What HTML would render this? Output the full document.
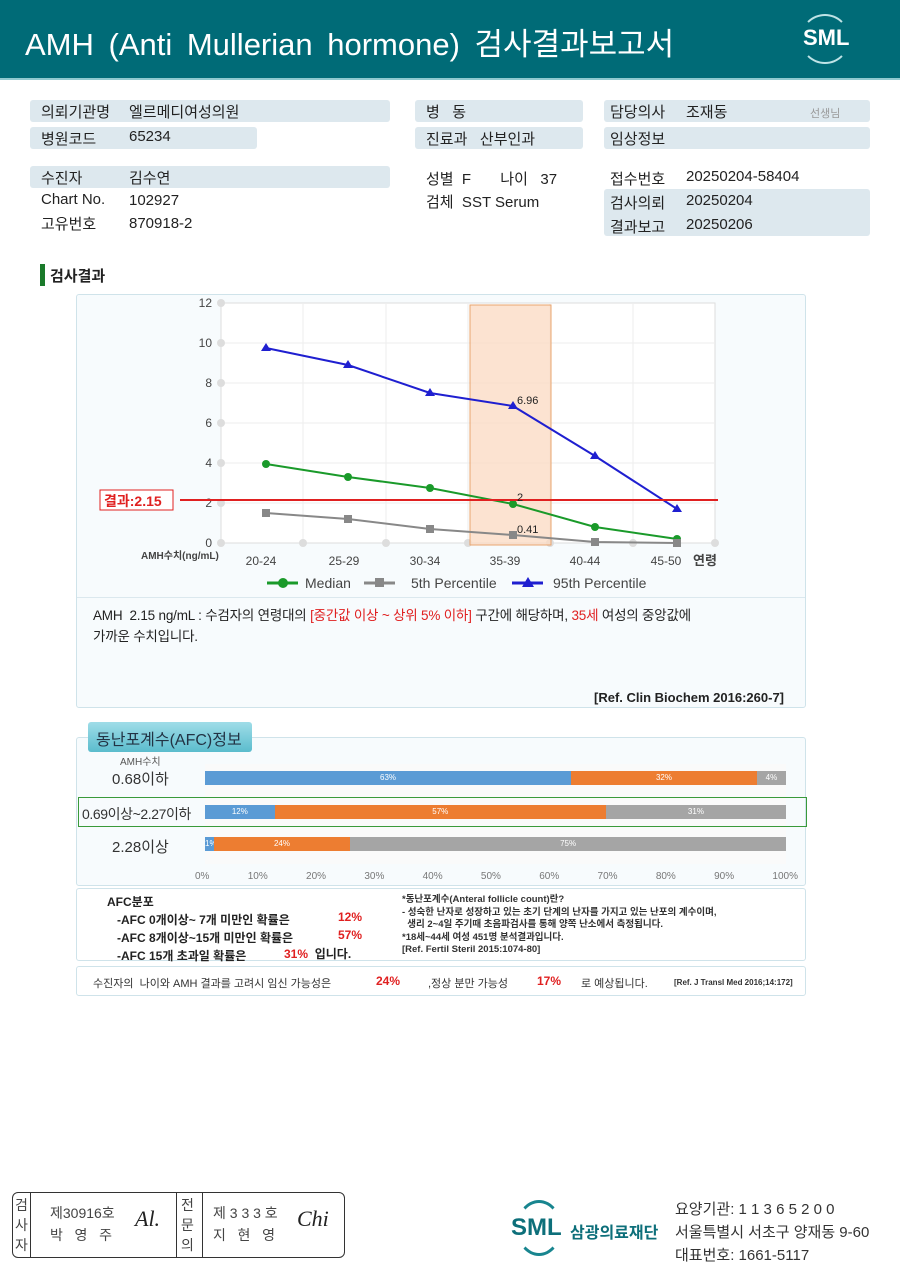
<!DOCTYPE html>
<html><head><meta charset="utf-8"><style>
*{margin:0;padding:0;box-sizing:border-box}
body{width:900px;height:1271px;background:#fff;position:relative;overflow:hidden;font-family:"Liberation Sans","Noto Sans CJK KR",sans-serif;color:#222}
.a{position:absolute;white-space:nowrap}
.bx{position:absolute;background:#dde8ee;border-radius:3px}
.t{font-size:15px}
.r{color:#e02020}
</style></head><body>
<div class="a" style="left:0;top:0;width:900px;height:78px;background:#006b77"></div>
<div class="a" style="left:0;top:78px;width:900px;height:2px;background:#8fc9cf"></div>
<div class="a" style="left:25px;top:19px;font-size:31px;color:#fff;word-spacing:6px">AMH (Anti Mullerian hormone) 검사결과보고서</div>
<div class="a" style="left:800px;top:14px;width:50px;height:50px;border-radius:50%;border:2px solid #bfe3e6;border-left-color:transparent;border-right-color:transparent"></div>
<div class="a" style="left:803px;top:25px;font-size:22px;font-weight:bold;color:#fff">SML</div>

<div class="bx" style="left:30px;top:100px;width:360px;height:22px"></div>
<div class="bx" style="left:30px;top:127px;width:227px;height:22px"></div>
<div class="bx" style="left:30px;top:166px;width:360px;height:22px"></div>
<div class="bx" style="left:415px;top:100px;width:168px;height:22px"></div>
<div class="bx" style="left:415px;top:127px;width:168px;height:22px"></div>
<div class="bx" style="left:604px;top:100px;width:266px;height:22px"></div>
<div class="bx" style="left:604px;top:127px;width:266px;height:22px"></div>
<div class="bx" style="left:604px;top:189px;width:266px;height:47px"></div>
<div class="a t" style="left:41px;top:101px">의뢰기관명</div><div class="a t" style="left:129px;top:101px">엘르메디여성의원</div>
<div class="a t" style="left:41px;top:128px">병원코드</div><div class="a t" style="left:129px;top:128px">65234</div>
<div class="a t" style="left:41px;top:167px">수진자</div><div class="a t" style="left:129px;top:167px">김수연</div>
<div class="a t" style="left:41px;top:191px">Chart No.</div><div class="a t" style="left:129px;top:192px">102927</div>
<div class="a t" style="left:41px;top:213px">고유번호</div><div class="a t" style="left:129px;top:215px">870918-2</div>
<div class="a t" style="left:426px;top:101px">병&nbsp;&nbsp;&nbsp;동</div>
<div class="a t" style="left:426px;top:128px">진료과&nbsp;&nbsp;&nbsp;산부인과</div>
<div class="a t" style="left:426px;top:168px">성별&nbsp;&nbsp;F&nbsp;&nbsp;&nbsp;&nbsp;&nbsp;&nbsp;&nbsp;나이&nbsp;&nbsp;&nbsp;37</div>
<div class="a t" style="left:426px;top:191px">검체&nbsp;&nbsp;SST Serum</div>
<div class="a t" style="left:610px;top:101px">담당의사</div><div class="a t" style="left:686px;top:101px">조재동</div><div class="a" style="left:810px;top:105px;font-size:11px;color:#999">선생님</div>
<div class="a t" style="left:610px;top:128px">임상정보</div>
<div class="a t" style="left:610px;top:168px">접수번호</div><div class="a t" style="left:686px;top:168px">20250204-58404</div>
<div class="a t" style="left:610px;top:192px">검사의뢰</div><div class="a t" style="left:686px;top:192px">20250204</div>
<div class="a t" style="left:610px;top:216px">결과보고</div><div class="a t" style="left:686px;top:216px">20250206</div>

<div class="a" style="left:40px;top:264px;width:5px;height:22px;background:#1a7a2a"></div>
<div class="a" style="left:50px;top:265px;font-size:15px;font-weight:bold">검사결과</div>

<div class="a" style="left:76px;top:294px;width:730px;height:414px;border:1px solid #cfe3ea;background:#f7fbfd;border-radius:3px"></div>
<div class="a" style="left:77px;top:597px;width:728px;height:1px;background:#dbe8ee"></div>
<svg class="a" style="left:0;top:0" width="900" height="720">
<rect x="221" y="303" width="494" height="240" fill="#fff" stroke="#ddd"/>
<g stroke="#eee">
<line x1="221" y1="343" x2="715" y2="343"/><line x1="221" y1="383" x2="715" y2="383"/><line x1="221" y1="423" x2="715" y2="423"/><line x1="221" y1="463" x2="715" y2="463"/><line x1="221" y1="503" x2="715" y2="503"/>
<line x1="303" y1="303" x2="303" y2="543"/><line x1="386" y1="303" x2="386" y2="543"/><line x1="468" y1="303" x2="468" y2="543"/><line x1="550" y1="303" x2="550" y2="543"/><line x1="633" y1="303" x2="633" y2="543"/></g>
<g fill="#ddd"><circle cx="221" cy="303" r="4"/><circle cx="221" cy="343" r="4"/><circle cx="221" cy="383" r="4"/><circle cx="221" cy="423" r="4"/><circle cx="221" cy="463" r="4"/><circle cx="221" cy="503" r="4"/><circle cx="221" cy="543" r="4"/><circle cx="303" cy="543" r="4"/><circle cx="386" cy="543" r="4"/><circle cx="468" cy="543" r="4"/><circle cx="550" cy="543" r="4"/><circle cx="633" cy="543" r="4"/><circle cx="715" cy="543" r="4"/></g>
<g font-size="12" fill="#444" text-anchor="end"><text x="212" y="307">12</text><text x="212" y="347">10</text><text x="212" y="387">8</text><text x="212" y="427">6</text><text x="212" y="467">4</text><text x="212" y="507">2</text><text x="212" y="547">0</text></g>
<rect x="470" y="305" width="81" height="240" fill="#fbd9c2" fill-opacity="0.75" stroke="#e8a46e"/>
<polyline points="266,348 348,365 430,393 513,406 595,456 677,509" fill="none" stroke="#1f1fd0" stroke-width="2"/>
<g fill="#1f1fd0"><path d="M266,343l5,8h-10z"/><path d="M348,360l5,8h-10z"/><path d="M430,388l5,8h-10z"/><path d="M513,401l5,8h-10z"/><path d="M595,451l5,8h-10z"/><path d="M677,504l5,8h-10z"/></g>
<polyline points="266,464 348,477 430,488 513,504 595,527 677,539" fill="none" stroke="#1a9a2a" stroke-width="2"/>
<g fill="#1a9a2a"><circle cx="266" cy="464" r="4"/><circle cx="348" cy="477" r="4"/><circle cx="430" cy="488" r="4"/><circle cx="513" cy="504" r="4"/><circle cx="595" cy="527" r="4"/><circle cx="677" cy="539" r="4"/></g>
<polyline points="266,513 348,519 430,529 513,535 595,542 677,543" fill="none" stroke="#888" stroke-width="2"/>
<g fill="#888"><rect x="262" y="509" width="8" height="8"/><rect x="344" y="515" width="8" height="8"/><rect x="426" y="525" width="8" height="8"/><rect x="509" y="531" width="8" height="8"/><rect x="591" y="538" width="8" height="8"/><rect x="673" y="539" width="8" height="8"/></g>
<line x1="180" y1="500" x2="718" y2="500" stroke="#e02020" stroke-width="2"/>
<rect x="100" y="490" width="73" height="20" fill="#fff" stroke="#e02020"/>
<text x="104" y="506" font-size="14" fill="#e02020" font-weight="bold">결과:2.15</text>
<g font-size="11" fill="#222"><text x="517" y="404">6.96</text><text x="517" y="501">2</text><text x="517" y="533">0.41</text></g>
<text x="141" y="559" font-size="10" fill="#444" font-weight="bold">AMH수치(ng/mL)</text>
<g font-size="12" fill="#444" text-anchor="middle"><text x="261" y="565">20-24</text><text x="344" y="565">25-29</text><text x="425" y="565">30-34</text><text x="505" y="565">35-39</text><text x="585" y="565">40-44</text><text x="666" y="565">45-50</text></g>
<text x="693" y="565" font-size="13" font-weight="bold" fill="#444">연령</text>
<line x1="267" y1="583" x2="298" y2="583" stroke="#1a9a2a" stroke-width="3"/><circle cx="283" cy="583" r="5" fill="#1a9a2a"/>
<text x="305" y="588" font-size="14" fill="#444">Median</text>
<line x1="364" y1="583" x2="395" y2="583" stroke="#888" stroke-width="3"/><rect x="375" y="578" width="9" height="9" fill="#888"/>
<text x="411" y="588" font-size="14" fill="#444">5th Percentile</text>
<line x1="512" y1="583" x2="543" y2="583" stroke="#1f1fd0" stroke-width="3"/><path d="M528,577l6,10h-12z" fill="#1f1fd0"/>
<text x="553" y="588" font-size="14" fill="#444">95th Percentile</text>
</svg>
<div class="a" style="left:93px;top:605px;font-size:13.5px;line-height:21px;white-space:normal;width:715px;letter-spacing:-0.2px">AMH&nbsp; 2.15 ng/mL : 수검자의 연령대의 <span class="r">[중간값 이상 ~ 상위 5% 이하]</span> 구간에 해당하며, <span class="r">35세</span> 여성의 중앙값에<br>가까운 수치입니다.</div>
<div class="a" style="left:594px;top:690px;font-size:13px;font-weight:bold">[Ref. Clin Biochem 2016:260-7]</div>

<div class="a" style="left:76px;top:737px;width:730px;height:149px;border:1px solid #cfe3ea;background:#f7fbfd;border-radius:3px"></div>
<div class="a" style="left:88px;top:722px;width:164px;height:30px;background:linear-gradient(#9fdde8,#5bbccd);border-radius:3px;font-size:16px;padding:4px 0 0 8px;color:#234">동난포계수(AFC)정보</div>
<div class="a" style="left:120px;top:753px;font-size:10px;color:#555">AMH수치</div>
<div class="a" style="left:205px;top:764px;width:581px;height:100px;background:#fafafa"></div>
<div class="a" style="left:78px;top:797px;width:729px;height:30px;border:1.5px solid #3a9a3a"></div>
<div class="a" style="left:112px;top:768px;font-size:15px;color:#333">0.68이하</div>
<div class="a" style="left:82px;top:804px;font-size:14px;color:#333;letter-spacing:-0.4px">0.69이상~2.27이하</div>
<div class="a" style="left:112px;top:836px;font-size:15px;color:#333">2.28이상</div>
<div class="a" style="left:205px;top:771px;height:14px;width:581px;display:flex;font-size:8px;color:#fff;line-height:14px;text-align:center">
<div style="width:63%;background:#5b9bd5">63%</div><div style="width:32%;background:#ed7d31">32%</div><div style="width:5%;background:#a5a5a5">4%</div></div>
<div class="a" style="left:205px;top:805px;height:14px;width:581px;display:flex;font-size:8px;color:#fff;line-height:14px;text-align:center">
<div style="width:12%;background:#5b9bd5">12%</div><div style="width:57%;background:#ed7d31">57%</div><div style="width:31%;background:#a5a5a5">31%</div></div>
<div class="a" style="left:205px;top:837px;height:14px;width:581px;display:flex;font-size:8px;color:#fff;line-height:14px;text-align:center">
<div style="width:1.5%;background:#5b9bd5">1%</div><div style="width:23.5%;background:#ed7d31">24%</div><div style="width:75%;background:#a5a5a5">75%</div></div>
<div class="a" style="left:195px;top:871px;width:603px;display:flex;justify-content:space-between;font-size:10px;color:#777"><span>0%</span><span>10%</span><span>20%</span><span>30%</span><span>40%</span><span>50%</span><span>60%</span><span>70%</span><span>80%</span><span>90%</span><span>100%</span></div>

<div class="a" style="left:76px;top:888px;width:730px;height:73px;border:1px solid #cfe3ea;background:#fff;border-radius:3px"></div>
<div class="a" style="left:107px;top:893px;font-size:12px;font-weight:bold;line-height:18px">AFC분포<br>&nbsp;&nbsp;&nbsp;-AFC 0개이상~ 7개 미만인 확률은<br>&nbsp;&nbsp;&nbsp;-AFC 8개이상~15개 미만인 확률은<br>&nbsp;&nbsp;&nbsp;-AFC 15개 초과일 확률은</div>
<div class="a r" style="left:338px;top:910px;font-size:12px;font-weight:bold">12%</div>
<div class="a r" style="left:338px;top:928px;font-size:12px;font-weight:bold">57%</div>
<div class="a" style="left:284px;top:945px;font-size:12px;font-weight:bold"><span class="r">31%</span>&nbsp; 입니다.</div>
<div class="a" style="left:402px;top:894px;font-size:9.5px;font-weight:bold;line-height:12.5px;color:#333">*동난포계수(Anteral follicle count)란?<br>- 성숙한 난자로 성장하고 있는 초기 단계의 난자를 가지고 있는 난포의 계수이며,<br>&nbsp;&nbsp;생리 2~4일 주기때 초음파검사를 통해 양쪽 난소에서 측정됩니다.<br>*18세~44세 여성 451명 분석결과입니다.<br>[Ref. Fertil Steril 2015:1074-80]</div>

<div class="a" style="left:76px;top:966px;width:730px;height:30px;border:1px solid #cfe3ea;background:#fff;border-radius:3px"></div>
<div class="a" style="left:93px;top:975px;font-size:11px;color:#333">수진자의&nbsp; 나이와 AMH 결과를 고려시 임신 가능성은</div>
<div class="a r" style="left:376px;top:974px;font-size:12px;font-weight:bold">24%</div>
<div class="a" style="left:428px;top:975px;font-size:11px;color:#333">,정상 분만 가능성</div>
<div class="a r" style="left:537px;top:974px;font-size:12px;font-weight:bold">17%</div>
<div class="a" style="left:581px;top:975px;font-size:11px;color:#333">로 예상됩니다.</div>
<div class="a" style="left:674px;top:978px;font-size:8px;font-weight:bold;color:#333">[Ref. J Transl Med 2016;14:172]</div>

<div class="a" style="left:12px;top:1192px;width:333px;height:66px;border:1px solid #333;border-radius:6px"></div>
<div class="a" style="left:30px;top:1192px;width:1px;height:66px;background:#333"></div>
<div class="a" style="left:176px;top:1192px;width:1px;height:66px;background:#333"></div>
<div class="a" style="left:202px;top:1192px;width:1px;height:66px;background:#333"></div>
<div class="a" style="left:15px;top:1195px;font-size:14px;line-height:20px;white-space:normal;width:14px;color:#444">검사자</div>
<div class="a" style="left:181px;top:1195px;font-size:14px;line-height:20px;white-space:normal;width:14px;color:#444">전문의</div>
<div class="a" style="left:50px;top:1202px;font-size:14px;line-height:22px;color:#444">제30916호<br>박&nbsp;&nbsp;&nbsp;영&nbsp;&nbsp;&nbsp;주</div>
<div class="a" style="left:213px;top:1202px;font-size:14px;line-height:22px;color:#444">제 3 3 3 호<br>지&nbsp;&nbsp;&nbsp;현&nbsp;&nbsp;&nbsp;영</div>
<div class="a" style="left:135px;top:1206px;font-size:22px;font-style:italic;font-family:'Liberation Serif',serif">Al.</div>
<div class="a" style="left:297px;top:1206px;font-size:22px;font-style:italic;font-family:'Liberation Serif',serif">Chi</div>
<div class="a" style="left:516px;top:1200px;width:46px;height:56px;border-radius:50%;border:3px solid #18858f;border-left-color:transparent;border-right-color:transparent"></div>
<div class="a" style="left:511px;top:1214px;font-size:24px;font-weight:bold;color:#0d6f7a">SML</div>
<div class="a" style="left:570px;top:1219px;font-size:16px;font-weight:bold;color:#0d6f7a">삼광의료재단</div>
<div class="a" style="left:675px;top:1198px;font-size:15px;line-height:23px;color:#333">요양기관: 1 1 3 6 5 2 0 0<br>서울특별시 서초구 양재동 9-60<br>대표번호: 1661-5117</div>
</body></html>
